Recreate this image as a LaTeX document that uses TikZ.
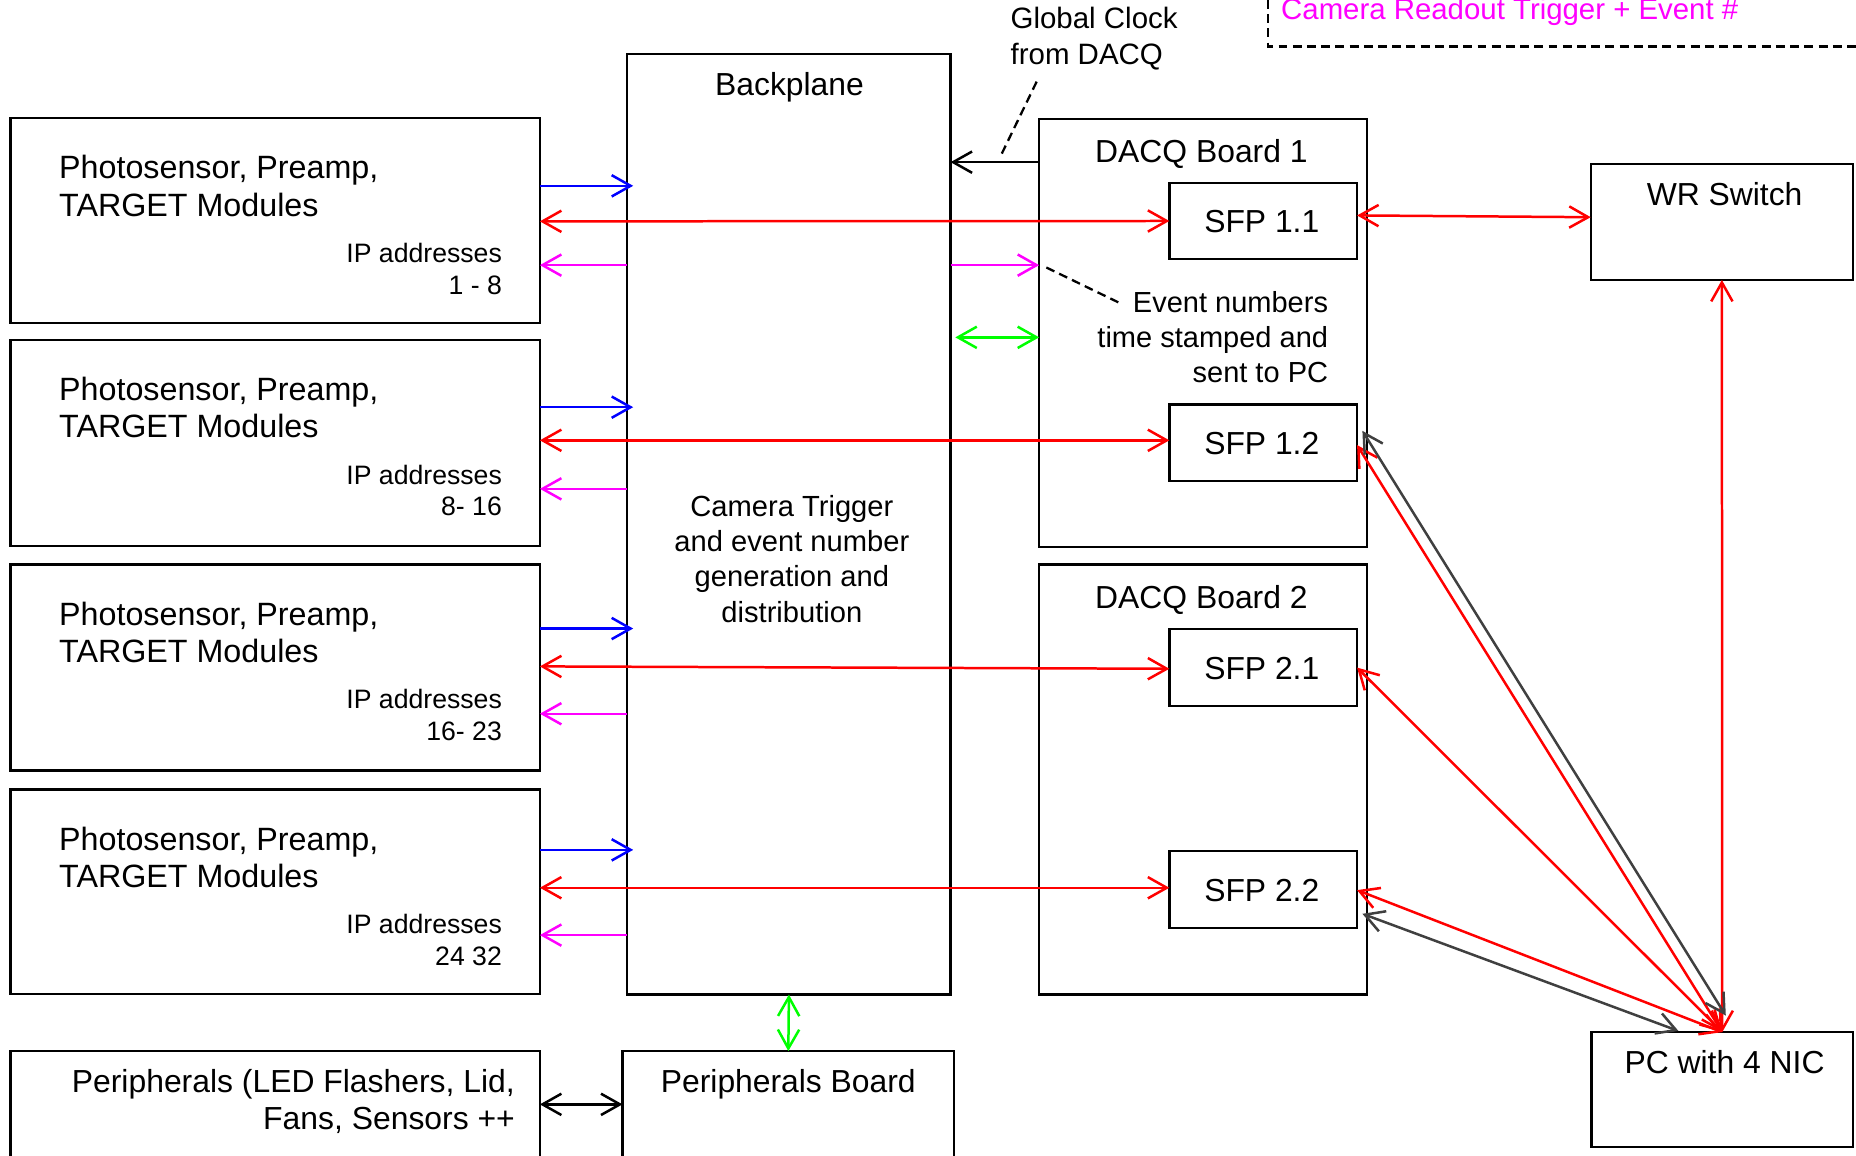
\documentclass[tikz,border=0pt]{standalone}
\usepackage{fontspec}
\setmainfont{Liberation Sans}
\usetikzlibrary{arrows.meta}
\definecolor{mag}{RGB}{255,0,255}
\definecolor{grn}{RGB}{0,255,0}
\definecolor{blu}{RGB}{0,0,255}
\definecolor{rd}{RGB}{255,0,0}
\definecolor{gry}{RGB}{64,64,64}
\newcommand{\mlines}[2]{\begin{tabular}[t]{@{}#1@{}}#2\end{tabular}}
\tikzset{
  box/.style={draw, line width=0.55pt, inner sep=0pt, outer sep=0pt},
  tbig/.style={font=\fontsize{7.65}{9.05}\selectfont, inner sep=0pt, outer sep=0pt},
  tphot/.style={font=\fontsize{7.75}{9.05}\selectfont, inner sep=0pt, outer sep=0pt},
  tmed/.style={font=\fontsize{7.0}{8.5}\selectfont, inner sep=0pt, outer sep=0pt},
  tsml/.style={font=\fontsize{6.4}{7.6}\selectfont, inner sep=0pt, outer sep=0pt},
  conn/.style={line width=0.6pt},
  leader/.style={line width=0.55pt, dash pattern=on 0.75mm off 0.45mm},
  >={Straight Barb[length=1.6mm,width=1.8mm]}
}
\begin{document}
\begin{tikzpicture}[x=0.01cm, y=-0.01cm]
\useasboundingbox (0,0) rectangle (1568,976);
\clip (0,0) rectangle (1568,976);

% legend box (partly outside the picture)
\coordinate (lgA) at (1071.5,-60);
\coordinate (lgB) at (1071.5,39.4);
\coordinate (lgC) at (1700,39.4);
\draw[leader] (lgA) -- (lgB) -- (lgC);
\node[tmed, text=mag, anchor=base west, font=\fontsize{7.06}{8.5}\selectfont] (lgt) at (1082.4,16.6) {Camera Readout Trigger + Event \#};

% module boxes
\node[box, minimum width=4.47cm, minimum height=1.73cm] (m1) at (232.5,186.5) {};
\node[box, minimum width=4.47cm, minimum height=1.74cm] (m2) at (232.5,374) {};
\node[box, minimum width=4.47cm, minimum height=1.74cm] (m3) at (232.5,564) {};
\node[box, minimum width=4.47cm, minimum height=1.73cm] (m4) at (232.5,753.5) {};
\node[box, minimum width=4.47cm, minimum height=1.4cm] (per) at (232.5,958) {};

\node[tphot, anchor=base west] (m1t) at (50,151.2) {\mlines{l}{Photosensor, Preamp,\\TARGET Modules}};
\node[tphot, anchor=base west] (m2t) at (50,338.2) {\mlines{l}{Photosensor, Preamp,\\TARGET Modules}};
\node[tphot, anchor=base west] (m3t) at (50,528.2) {\mlines{l}{Photosensor, Preamp,\\TARGET Modules}};
\node[tphot, anchor=base west] (m4t) at (50,718.2) {\mlines{l}{Photosensor, Preamp,\\TARGET Modules}};
\node[tsml, anchor=base east] (m1ip) at (424,221.9) {\mlines{r}{IP addresses\\1 - 8}};
\node[tsml, anchor=base east] (m2ip) at (424,408.9) {\mlines{r}{IP addresses\\8- 16}};
\node[tsml, anchor=base east] (m3ip) at (424,598.9) {\mlines{r}{IP addresses\\16- 23}};
\node[tsml, anchor=base east] (m4ip) at (424,788.9) {\mlines{r}{IP addresses\\24 32}};
\node[tbig, anchor=base east, font=\fontsize{7.66}{8.82}\selectfont] (pert) at (435,922.8) {\mlines{r}{Peripherals (LED Flashers, Lid,\\Fans, Sensors ++}};

% backplane and peripherals board
\node[box, minimum width=2.73cm, minimum height=7.94cm] (bp) at (666.5,443) {};
\node[tbig, anchor=base] (bpt) at (667,81) {Backplane};
\node[tmed, anchor=base] (bpc) at (669,436) {\mlines{c}{Camera Trigger\\and event number\\generation and\\distribution}};
\node[box, minimum width=2.8cm, minimum height=1.4cm] (pb) at (666,958) {};
\node[tbig, anchor=base] (pbt) at (666,922.8) {Peripherals Board};

% DACQ boards
\node[box, minimum width=2.77cm, minimum height=3.61cm] (d1) at (1016.5,281.4) {};
\node[box, minimum width=2.77cm, minimum height=3.63cm] (d2) at (1016.5,658.5) {};
\node[tbig, anchor=base] (d1t) at (1015,137.4) {DACQ Board 1};
\node[tbig, anchor=base] (d2t) at (1015,514) {DACQ Board 2};
\node[box, minimum width=1.585cm, minimum height=0.647cm] (s11) at (1067.2,186.7) {};
\node[box, minimum width=1.585cm, minimum height=0.647cm] (s12) at (1067.2,374) {};
\node[box, minimum width=1.585cm, minimum height=0.647cm] (s21) at (1067.2,564) {};
\node[box, minimum width=1.585cm, minimum height=0.647cm] (s22) at (1067.2,751.5) {};
\node[tbig, anchor=base] (s11t) at (1066,196.6) {SFP 1.1};
\node[tbig, anchor=base] (s12t) at (1066,384) {SFP 1.2};
\node[tbig, anchor=base] (s21t) at (1066,574) {SFP 2.1};
\node[tbig, anchor=base] (s22t) at (1066,761.5) {SFP 2.2};
\node[tmed, anchor=base east, font=\fontsize{6.97}{8.45}\selectfont] (evt) at (1122,263.9) {\mlines{r}{Event numbers\\time stamped and\\sent to PC}};

% global clock label
\node[tmed, anchor=base west, font=\fontsize{7.08}{8.65}\selectfont] (gc) at (853.8,23.9) {\mlines{l}{Global Clock\\from DACQ}};

% WR switch and PC
\node[box, minimum width=2.215cm, minimum height=0.977cm] (wr) at (1454.7,187.6) {};
\node[tbig, anchor=base] (wrt) at (1457,173.2) {WR Switch};
\node[box, minimum width=2.21cm, minimum height=0.97cm] (pc) at (1455,920.5) {};
\node[tbig, anchor=base] (pct) at (1457,907.3) {PC with 4 NIC};

% blue arrows
\draw[conn, blu, ->, shorten >=-0.05cm] (m1.east |- 0,157) -- (bp.west |- 0,157);
\draw[conn, blu, ->, shorten >=-0.05cm] (m2.east |- 0,344) -- (bp.west |- 0,344);
\draw[conn, blu, ->, shorten >=-0.05cm] (m3.east |- 0,531) -- (bp.west |- 0,531);
\draw[conn, blu, ->, shorten >=-0.05cm] (m4.east |- 0,718) -- (bp.west |- 0,718);

% magenta arrows
\draw[conn, mag, ->] (bp.west |- 0,224) -- (m1.east |- 0,224);
\draw[conn, mag, ->] (bp.west |- 0,413) -- (m2.east |- 0,413);
\draw[conn, mag, ->] (bp.west |- 0,603) -- (m3.east |- 0,603);
\draw[conn, mag, ->] (bp.west |- 0,790) -- (m4.east |- 0,790);
\draw[conn, mag, ->] (bp.east |- 0,224) -- (d1.west |- 0,224);

% red module <-> SFP
\draw[conn, rd, <->] (m1.east |- 0,187) -- (s11.west);
\draw[conn, rd, <->] (m2.east |- 0,372) -- (s12.west |- 0,372);
\draw[conn, rd, <->] (m3.east |- 0,563) -- (s21.west |- 0,565);
\draw[conn, rd, <->] (m4.east |- 0,750) -- (s22.west |- 0,750);

% green
\draw[conn, grn, <->, shorten <=0.04cm] (bp.east |- 0,285) -- (d1.west |- 0,285);
\draw[conn, grn, <->] (bp.south) -- (pb.north);

% black
\draw[conn, ->] (d1.west |- 0,137) -- (bp.east |- 0,137);
\draw[conn, <->] (per.east |- 0,933) -- (pb.west |- 0,933);

% dashed leaders
\coordinate (gcl1) at (875.8,69);
\coordinate (gcl2) at (846.2,130.1);
\draw[leader] (gcl1) -- (gcl2);
\coordinate (evl1) at (884,226);
\coordinate (evl2) at (946,256);
\draw[leader] (evl1) -- (evl2);

% right side
\draw[conn, rd, <->] (s11.east |- 0,182) -- (wr.west |- 0,183.5);
\draw[conn, rd, <->] (wr.south) -- (pc.north);
\draw[conn, rd, <->] (pc.north) -- (s12.east |- 0,376);
\draw[conn, rd, <->] (pc.north) -- (s21.east);
\draw[conn, rd, <->] (pc.north) -- (s22.east |- 0,752);
\coordinate (ga1) at (1151,364);
\coordinate (ga2) at (1458,858);
\draw[conn, gry, <->] (ga1) -- (ga2);
\coordinate (gb1) at (1151,772);
\coordinate (gb2) at (1418,871);
\draw[conn, gry, <->] (gb1) -- (gb2);
\end{tikzpicture}
\end{document}
